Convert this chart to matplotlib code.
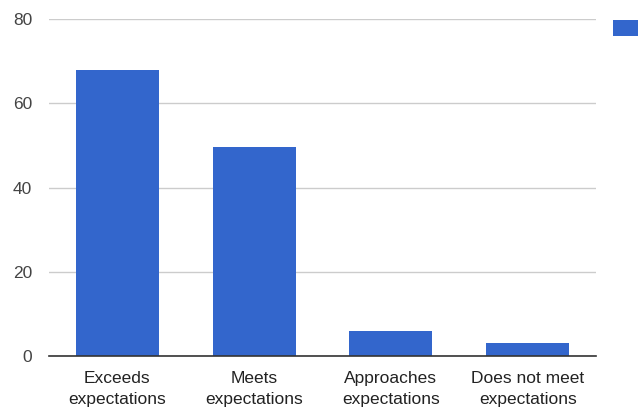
import numpy as np
import matplotlib
matplotlib.use('Agg')
import matplotlib.pyplot as plt

categories = ['Exceeds\nexpectations', 'Meets\nexpectations',
              'Approaches\nexpectations', 'Does not meet\nexpectations']
values = [68, 49.5, 6, 3]
yticks = [0, 20, 40, 60, 80]

plt.rcParams['font.family'] = ['Liberation Sans', 'DejaVu Sans']

fig = plt.figure(figsize=(6.4, 4.13), dpi=100)
ax = fig.add_axes([0.0766, 0.138, 0.8547, 0.816])

x = np.arange(len(categories))
bars = ax.bar(x, values, width=0.607, color='#3366cc', zorder=3)

ax.set_xlim(-0.5, len(categories) - 0.5)
ax.set_ylim(0, 80)
ax.set_yticks(yticks)
ax.set_xticks(x)
ax.set_xticklabels(categories, fontsize=12.5, color='#222222', linespacing=1.5)
ax.tick_params(axis='y', labelsize=12.5, labelcolor='#444444', length=0, pad=12)
ax.tick_params(axis='x', length=0, pad=10.5)

for s in ['top', 'right', 'left']:
    ax.spines[s].set_visible(False)
ax.spines['bottom'].set_color('#333333')
ax.spines['bottom'].set_linewidth(1.2)
ax.spines['bottom'].set_zorder(4)
ax.yaxis.grid(True, color='#cccccc', linewidth=1)
ax.set_axisbelow(True)

# legend in the reference is cut off at the right edge, only the swatch shows
fig.legend(handles=[bars], labels=[' '], loc='upper left',
           bbox_to_anchor=(0.958, 0.951), frameon=False, fontsize=12.5,
           borderpad=0, borderaxespad=0,
           handlelength=1.44, handleheight=1.0)

fig.savefig('out.png', dpi=100)
